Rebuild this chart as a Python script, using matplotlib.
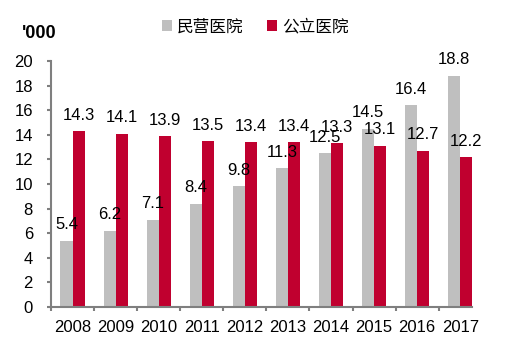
import numpy as np
import matplotlib.pyplot as plt

years = ['2008', '2009', '2010', '2011', '2012', '2013', '2014', '2015', '2016', '2017']
private = [5.4, 6.2, 7.1, 8.4, 9.8, 11.3, 12.5, 14.5, 16.4, 18.8]
public = [14.3, 14.1, 13.9, 13.5, 13.4, 13.4, 13.3, 13.1, 12.7, 12.2]
series_names = ['民营医院', '公立医院']

gray = '#BFBFBF'
red = '#C0002F'
axis_color = '#7F7F7F'

plt.rcParams['font.family'] = ['Liberation Sans', 'Noto Sans CJK SC', 'DejaVu Sans']

fig = plt.figure(figsize=(5.10, 3.42), dpi=100)
ax = fig.add_axes([0.1, 0.102, 0.826, 0.72])

x = np.arange(len(years))
w = 0.28
b1 = ax.bar(x - w / 2, private, w, color=gray, label=series_names[0])
b2 = ax.bar(x + w / 2, public, w, color=red, label=series_names[1])

# value labels above each bar
for bars, vals in ((b1, private), (b2, public)):
    for rect, v in zip(bars, vals):
        ax.annotate(f'{v:.1f}', (rect.get_x() + rect.get_width() / 2, v),
                    xytext=(0, 6), textcoords='offset points',
                    ha='center', va='bottom', fontsize=12)

ax.set_xlim(-0.5, len(years) - 1 + w)
ax.set_ylim(0, 20)
ax.set_yticks(np.arange(0, 21, 2))
# separator ticks between years, year labels on minor ticks
ax.set_xticks(np.arange(len(years)) - 0.5, minor=False)
ax.set_xticklabels([])
ax.set_xticks(x, minor=True)
ax.set_xticklabels(years, minor=True, fontsize=12)
ax.tick_params(axis='x', which='minor', length=0, pad=9)
ax.tick_params(axis='x', which='major', direction='out', length=3, width=1.5, color=axis_color)
ax.tick_params(axis='y', direction='out', length=3, width=1.5, color=axis_color,
               labelsize=12, pad=10)

for side in ('top', 'right'):
    ax.spines[side].set_visible(False)
for side in ('left', 'bottom'):
    ax.spines[side].set_color(axis_color)
    ax.spines[side].set_linewidth(1.5)

fig.text(0.043, 0.903, "'000", fontsize=13, fontweight='bold', ha='left', va='center')

fig.legend(handles=[b1, b2], loc='center', bbox_to_anchor=(0.5, 0.922), ncol=2,
           frameon=False, handlelength=0.6, handleheight=0.6, handletextpad=0.3,
           columnspacing=1.4, prop={'family': 'Noto Sans CJK SC', 'size': 12})

fig.savefig('out.png', dpi=100)
